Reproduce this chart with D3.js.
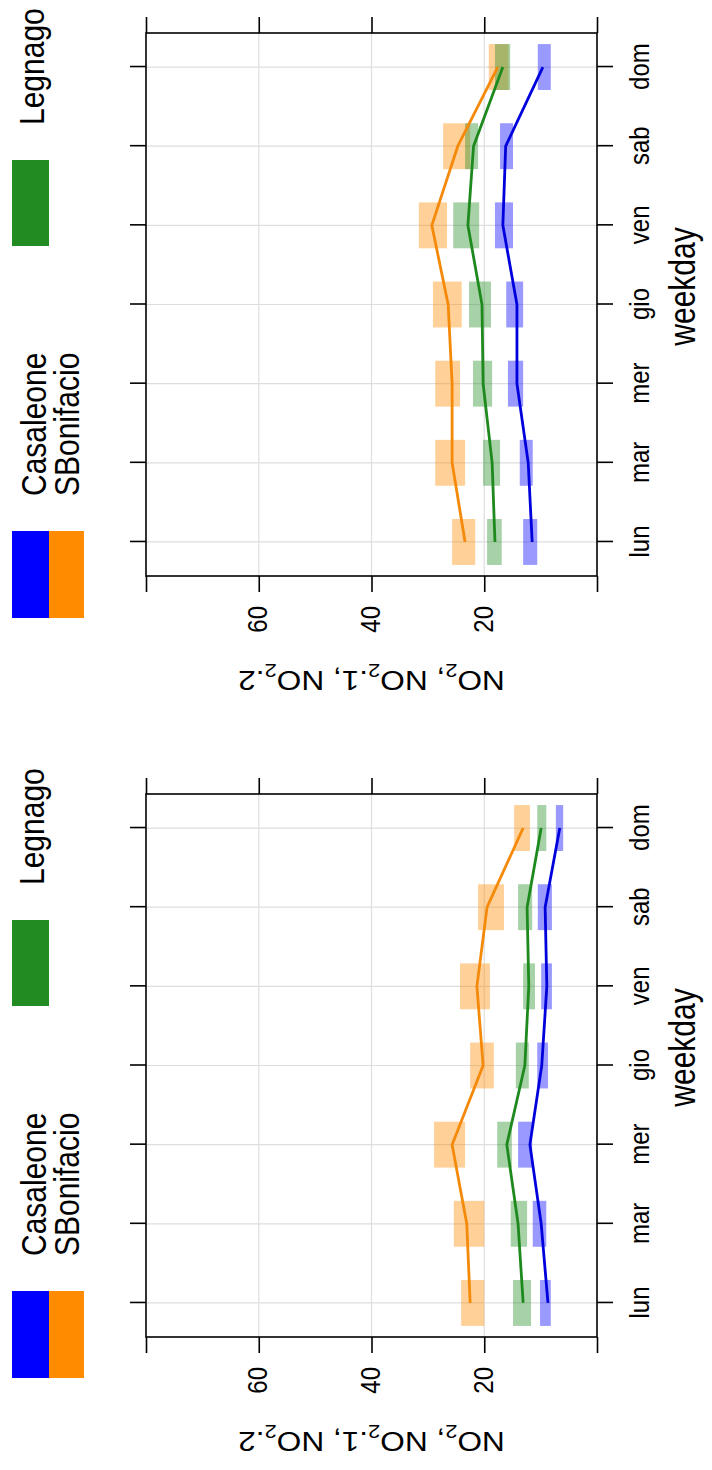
<!DOCTYPE html>
<html><head><meta charset="utf-8">
<script src="https://cdn.jsdelivr.net/npm/d3@7"></script>
<style>html,body{margin:0;padding:0;background:#fff;} svg{display:block;}</style>
</head><body>
<svg id="chart" width="712" height="1470"></svg>
<script>
// ---------- data ----------
const weekdays = ["lun","mar","mer","gio","ven","sab","dom"];
const seriesNames = ["Casaleone","SBonifacio","Legnago"];
const seriesColors = ["#0000ff","#ff8c00","#228b22"];
const lineColors = ["#0000dd","#f5890a","#1e8a1e"];
const valueTicks = [0,20,40,60,80];
const valueTickLabels = ["","20","40","60",""];
const yLabelParts = ["NO","2",", NO","2",".1, NO","2",".2"];
const xLabel = "weekday";

// left panel (lower panel in the picture)
const leftCasaleone   = [8.7, 9.9, 11.9, 9.8, 8.9, 9.2, 6.6];
const leftCasaleoneLo = [8.2, 9.0, 11.5, 8.7, 8.0, 8.0, 6.0];
const leftCasaleoneHi = [10.1,11.4,14.0,10.6,9.9,10.5,7.3];
const leftSBonifacio   = [22.5,23.1,25.7,20.2,21.3,19.5,13.1];
const leftSBonifacioLo = [20.0,20.0,23.4,18.3,19.0,16.5,11.9];
const leftSBonifacioHi = [24.1,25.4,28.9,22.5,24.3,21.1,14.7];
const leftLegnago   = [13.1,14.0,16.0,12.8,12.1,12.4,9.9];
const leftLegnagoLo = [11.7,12.4,15.1,12.1,11.0,11.5,9.0];
const leftLegnagoHi = [14.9,15.3,17.7,14.4,13.1,14.0,10.6];

// right panel (upper panel in the picture)
const rightCasaleone   = [11.5,12.2,14.2,14.2,16.7,16.2,9.6];
const rightCasaleoneLo = [10.6,11.4,13.1,13.1,14.9,14.9,8.2];
const rightCasaleoneHi = [13.1,13.7,15.8,16.1,18.1,17.2,10.5];
const rightSBonifacio   = [23.4,25.7,25.7,26.4,29.3,24.7,17.6];
const rightSBonifacioLo = [21.6,23.4,24.3,24.0,26.6,22.5,15.7];
const rightSBonifacioHi = [25.7,28.7,28.7,29.1,31.6,27.3,19.2];
const rightLegnago   = [18.1,18.6,20.2,20.4,22.9,21.9,16.7];
const rightLegnagoLo = [16.9,17.2,18.6,18.8,20.9,21.1,15.4];
const rightLegnagoHi = [19.5,20.2,22.0,22.7,25.5,23.4,18.1];

// ---------- drawing ----------
const W = 1470, H = 712;           // original (unrotated) canvas
const SY = 1.15;                   // vertical glyph stretch of the original image
const FONT = "'Liberation Sans', Arial, Helvetica, sans-serif";

const svg = d3.select("#chart");
const root = svg.append("g").attr("transform", `translate(0,${W}) rotate(-90)`);

const yScale = d3.scaleLinear().domain([0,80]).range([597,146]);

function txt(g, x, y, s, size, anchor, sy) {
  return g.append("text")
    .attr("transform", `translate(${x},${y}) scale(1,${sy || SY})`)
    .attr("font-family", FONT).attr("font-size", size)
    .attr("text-anchor", anchor || "start").attr("fill", "#000").text(s);
}

function drawPanel(x0, x1, series, legendX) {
  const g = root.append("g");
  const xScale = d3.scalePoint().domain(weekdays).range([x0, x1]).padding(0.43);
  const step = xScale.step();
  const [yb, yt] = yScale.range();

  // grid
  g.selectAll(".gx").data(weekdays).join("line")
    .attr("x1", d => xScale(d)).attr("x2", d => xScale(d))
    .attr("y1", yt).attr("y2", yb).attr("stroke", "#dedede").attr("stroke-width", 1.2);
  g.selectAll(".gy").data(valueTicks.slice(1, -1)).join("line")
    .attr("x1", x0).attr("x2", x1)
    .attr("y1", d => yScale(d)).attr("y2", d => yScale(d))
    .attr("stroke", "#dedede").attr("stroke-width", 1.2);

  // confidence boxes
  const bw = step * 0.58;
  series.forEach((s, si) => {
    g.append("g").selectAll("rect").data(weekdays).join("rect")
      .attr("x", d => xScale(d) - bw / 2).attr("width", bw)
      .attr("y", (d, i) => yScale(s.hi[i]))
      .attr("height", (d, i) => yScale(s.lo[i]) - yScale(s.hi[i]))
      .attr("fill", seriesColors[si]).attr("fill-opacity", 0.4);
  });
  // mean lines
  series.forEach((s, si) => {
    const line = d3.line().x((d, i) => xScale(weekdays[i])).y(d => yScale(d));
    g.append("path").datum(s.mean).attr("d", line)
      .attr("fill", "none").attr("stroke", lineColors[si]).attr("stroke-width", 2.8)
      .attr("stroke-linejoin", "round");
  });

  // frame
  g.append("rect").attr("x", x0).attr("y", yt).attr("width", x1 - x0).attr("height", yb - yt)
    .attr("fill", "none").attr("stroke", "#000").attr("stroke-width", 1.6);

  // value axis (left and right)
  const axL = d3.axisLeft(yScale).tickValues(valueTicks).tickSize(16).tickPadding(14)
    .tickFormat((d, i) => valueTickLabels[i]);
  const gl = g.append("g").attr("transform", `translate(${x0},0)`).call(axL);
  const axR = d3.axisRight(yScale).tickValues(valueTicks).tickSize(16).tickFormat("");
  const gr = g.append("g").attr("transform", `translate(${x1},0)`).call(axR);
  // weekday axis (bottom and top)
  const axB = d3.axisBottom(xScale).tickSize(16).tickPadding(14);
  const gb = g.append("g").attr("transform", `translate(0,${yb})`).call(axB);
  const axT = d3.axisTop(xScale).tickSize(16).tickFormat("");
  const gt = g.append("g").attr("transform", `translate(0,${yt})`).call(axT);
  [gl, gr, gb, gt].forEach(a => {
    a.select(".domain").remove();
    a.selectAll(".tick line").attr("stroke", "#000").attr("stroke-width", 1.6);
  });
  gl.selectAll(".tick text").attr("font-family", FONT).attr("font-size", 24).attr("fill", "#000")
    .attr("dy", null).attr("dominant-baseline", null)
    .attr("transform", function () { return `translate(${+d3.select(this).attr("x")},8) scale(1,${SY})`; })
    .attr("x", null);
  gb.selectAll(".tick text").attr("font-family", FONT).attr("font-size", 24).attr("fill", "#000")
    .attr("dy", null).attr("y", null)
    .attr("transform", `translate(0,52) scale(1,${SY})`);

  // axis titles
  txt(g, (x0 + x1) / 2 + 18, 695, xLabel, 30, "middle", 1.2);
  const yl = g.append("text")
    .attr("transform", `translate(${x0 - 95},${(yt + yb) / 2}) scale(1,${SY}) rotate(-90)`)
    .attr("font-family", FONT).attr("font-size", 27.5).attr("text-anchor", "middle").attr("fill", "#000");
  yLabelParts.forEach((p, i) => {
    const sub = i % 2 === 1;
    yl.append("tspan").text(p)
      .attr("font-size", sub ? 19 : 27.5)
      .attr("dy", sub ? 7 : (i > 0 ? -7 : 0));
  });

  // legend
  const lg = g.append("g").attr("transform", `translate(${legendX},0)`);
  lg.append("rect").attr("x", 0).attr("y", 12).attr("width", 87).attr("height", 37).attr("fill", seriesColors[0]);
  lg.append("rect").attr("x", 0).attr("y", 49).attr("width", 87).attr("height", 35).attr("fill", seriesColors[1]);
  lg.append("rect").attr("x", 372).attr("y", 12).attr("width", 86).attr("height", 37).attr("fill", seriesColors[2]);
  txt(lg, 122, 46, seriesNames[0], 30);
  txt(lg, 122, 79, seriesNames[1], 30);
  txt(lg, 493, 44, seriesNames[2], 30);
}

function mk(m, lo, hi) { return { mean: m, lo: lo, hi: hi }; }

drawPanel(133, 676, [
  mk(leftCasaleone, leftCasaleoneLo, leftCasaleoneHi),
  mk(leftSBonifacio, leftSBonifacioLo, leftSBonifacioHi),
  mk(leftLegnago, leftLegnagoLo, leftLegnagoHi)
], 92);

drawPanel(894, 1437, [
  mk(rightCasaleone, rightCasaleoneLo, rightCasaleoneHi),
  mk(rightSBonifacio, rightSBonifacioLo, rightSBonifacioHi),
  mk(rightLegnago, rightLegnagoLo, rightLegnagoHi)
], 852);
</script>
</body></html>
